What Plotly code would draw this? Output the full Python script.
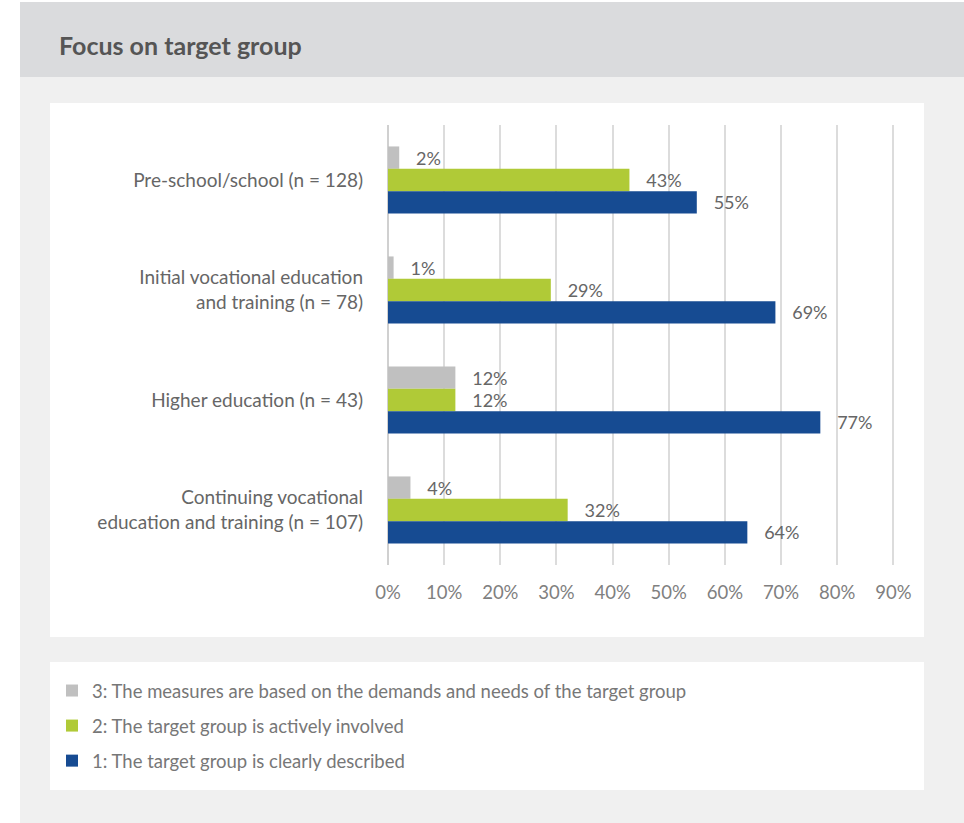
import plotly.graph_objects as go

categories = [
    "Pre-school/school (n = 128)",
    "Initial vocational education<br>and training (n = 78)",
    "Higher education (n = 43)",
    "Continuing vocational<br>education and training (n = 107)",
]
series_names = [
    "3: The measures are based on the demands and needs of the target group",
    "2: The target group is actively involved",
    "1: The target group is clearly described",
]
values_3 = [2, 1, 12, 4]
values_2 = [43, 29, 12, 32]
values_1 = [55, 69, 77, 64]
tick_vals = [0, 10, 20, 30, 40, 50, 60, 70, 80, 90]
tick_text = ["0%", "10%", "20%", "30%", "40%", "50%", "60%", "70%", "80%", "90%"]
colors = ["#c0c0c0", "#b0ca37", "#164b92"]

W, H = 964, 823
ML, MR, MT, MB = 388, 69, 125, 258
PW, PH = W - ML - MR, H - MT - MB

def px(x):
    return (x - ML) / PW

def py(y):
    return (H - MB - y) / PH

fig = go.Figure()
for name, vals, col in zip(series_names, [values_3, values_2, values_1], colors):
    fig.add_trace(go.Bar(
        y=categories, x=vals, name=name, orientation="h",
        marker=dict(color=col, line=dict(width=0)),
        text=[f"\u00a0\u00a0\u00a0{v}%" for v in vals],
        textposition="outside", cliponaxis=False,
        textfont=dict(family="Lato", size=18, color="#666666"),
        legendgroup=name,
        hoverinfo="skip",
    ))

shapes = [
    dict(type="rect", xref="paper", yref="paper", x0=px(20), x1=px(964), y0=py(2), y1=py(77),
         fillcolor="#dadbdd", line=dict(width=0), layer="below"),
    dict(type="rect", xref="paper", yref="paper", x0=px(20), x1=px(964), y0=py(77), y1=py(823),
         fillcolor="#f0f0f0", line=dict(width=0), layer="below"),
    dict(type="rect", xref="paper", yref="paper", x0=px(50), x1=px(924), y0=py(103), y1=py(637),
         fillcolor="#ffffff", line=dict(width=0), layer="below"),
    dict(type="rect", xref="paper", yref="paper", x0=px(50), x1=px(924), y0=py(662), y1=py(790),
         fillcolor="#ffffff", line=dict(width=0), layer="below"),
]

fig.update_layout(
    width=W, height=H,
    margin=dict(l=ML, r=MR, t=MT, b=MB, pad=0),
    paper_bgcolor="#ffffff", plot_bgcolor="rgba(0,0,0,0)",
    barmode="group", bargap=0.39, bargroupgap=0,
    shapes=shapes,
    font=dict(family="Lato", size=18, color="#666666"),
    showlegend=True,
    legend=dict(
        x=px(52), y=py(672), xanchor="left", yanchor="top",
        bgcolor="rgba(0,0,0,0)", font=dict(family="Lato", size=18.5, color="#777777"),
        tracegroupgap=8, itemwidth=30, traceorder="grouped",
    ),
    annotations=[dict(
        text="<b>Focus on target group</b>", xref="paper", yref="paper",
        x=px(57), y=py(45), xanchor="left", yanchor="middle", showarrow=False,
        font=dict(family="Lato", size=25, color="#555555"),
    )],
    xaxis=dict(
        range=[0, 90.3], tickvals=tick_vals, ticktext=tick_text,
        showgrid=True, gridcolor="#dcdcdc", gridwidth=1.5,
        zeroline=True, zerolinecolor="#d0d0d0", zerolinewidth=1.5,
        showline=False, ticks="", ticklabelstandoff=14,
        tickfont=dict(family="Lato", size=18.5, color="#808080"),
        fixedrange=True,
    ),
    yaxis=dict(
        autorange="reversed", showgrid=False, ticks="", showline=False,
        ticklabelstandoff=24,
        tickfont=dict(family="Lato", size=19, color="#666666"),
        fixedrange=True,
    ),
)

fig.write_html("out.html", config={"displayModeBar": False},
               post_script="document.body.style.margin='0';")
